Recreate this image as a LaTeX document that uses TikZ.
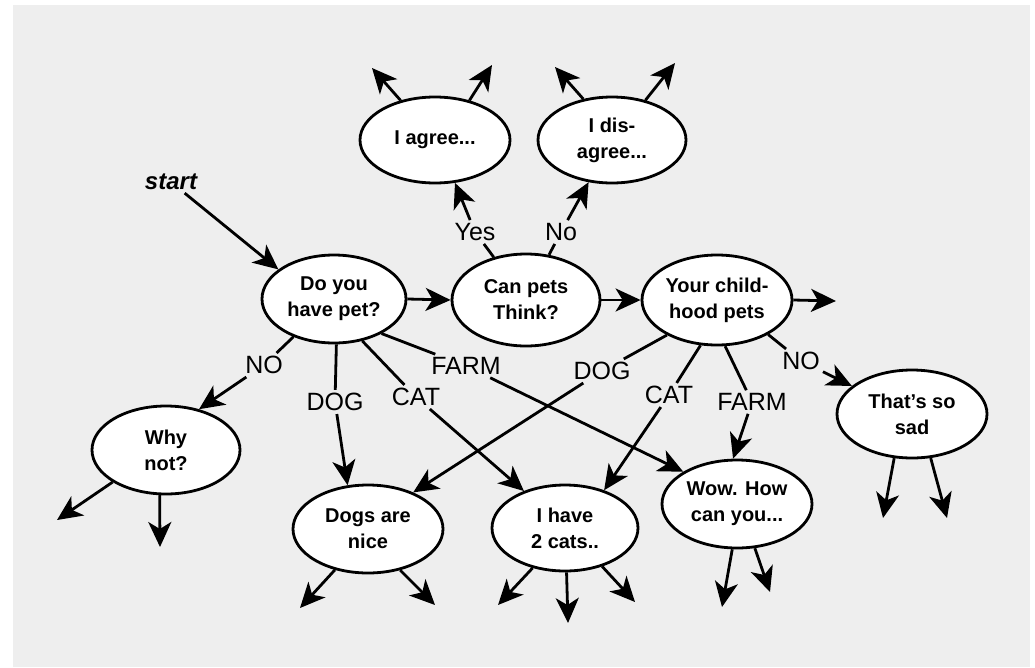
\documentclass[tikz,border=0pt]{standalone}
\usepackage{fontspec}
\setmainfont{Liberation Sans}
\usetikzlibrary{arrows.meta,shapes.geometric}
\definecolor{bg}{RGB}{238,238,238}
\begin{document}
\begin{tikzpicture}[x=1pt,y=-1pt,
  bub/.style={ellipse,draw=black,line width=2.8pt,fill=white,inner sep=0pt,align=center,
    font=\bfseries\fontsize{20}{26}\selectfont},
  lab/.style={inner sep=3pt,font=\fontsize{25}{30}\selectfont},
  con/.style={line width=2.8pt,draw=black},
  arr/.style={con,-{Stealth[length=25pt,width=23pt,inset=7pt]}},
]
\useasboundingbox (0,0) rectangle (1035,667);
\fill[white] (0,0) rectangle (1035,667);
\fill[bg] (13,5) rectangle (1030,667);

% bubbles
\node[bub,minimum width=144pt,minimum height=88pt] (do) at (334,299) {Do you\\have pet?};
\node[bub,minimum width=148pt,minimum height=92pt] (can) at (526,300) {Can pets\\Think?};
\node[bub,minimum width=150pt,minimum height=90pt] (your) at (717,300) {Your child-\\hood pets};
\node[bub,minimum width=150pt,minimum height=86pt] (agree) at (435,140) {I agree...};
\node[bub,minimum width=148pt,minimum height=86pt] (dis) at (612,140) {I dis-\\agree...};
\node[bub,minimum width=148pt,minimum height=88pt] (why) at (166,450) {Why\\not?};
\node[bub,minimum width=150pt,minimum height=88pt] (dogs) at (368,529) {Dogs are\\nice};
\node[bub,minimum width=146pt,minimum height=86pt] (cats) at (565,528) {I have\\2 cats..};
\node[bub,minimum width=150pt,minimum height=88pt] (wow) at (737,504) {Wow. How\\can you...};
\node[bub,minimum width=150pt,minimum height=88pt] (sad) at (912,414) {That's so\\sad};

% labels
\node[lab,font=\bfseries\itshape\fontsize{24}{28}\selectfont] (start) at (171,182) {start};
\node[lab] (yes) at (475,232) {Yes};
\node[lab] (no) at (561,232) {No};
\node[lab] (no1) at (264,365) {NO};
\node[lab] (dog1) at (335,402) {DOG};
\node[lab] (cat1) at (416,397) {CAT};
\node[lab] (farm1) at (466,366) {FARM};
\node[lab] (dog2) at (602,371) {DOG};
\node[lab] (cat2) at (669,395) {CAT};
\node[lab] (farm2) at (752,402) {FARM};
\node[lab] (no2) at (801,361) {NO};

% free ends
\coordinate (yo) at (836,301);
\coordinate (a1) at (372,68);
\coordinate (a2) at (492,65);
\coordinate (d1) at (555,67);
\coordinate (d2) at (675,63);
\coordinate (w1) at (57,520);
\coordinate (w2) at (160,547);
\coordinate (g1) at (300,608);
\coordinate (g2) at (435,605);
\coordinate (c1) at (498,605);
\coordinate (c2) at (568,623);
\coordinate (c3) at (635,602);
\coordinate (o1) at (722,607);
\coordinate (o2) at (770,592);
\coordinate (s1) at (883,518);
\coordinate (s2) at (947,518);

% connectors
\draw[arr] (start) -- (do.152);
\draw[arr] (do.east) -- (can.west);
\draw[arr] (can.east) -- (your.west);
\draw[arr] (your.east) -- (yo);
\draw[con] (can.127) -- (yes);
\draw[arr] (yes) -- (agree.295);
\draw[con] (can.63) -- (no);
\draw[arr] (no) -- (dis.241);
\draw[arr] (agree.131) -- (a1);
\draw[arr] (agree.49) -- (a2);
\draw[arr] (dis.125) -- (d1);
\draw[arr] (dis.50) -- (d2);
\draw[con] (do.223) -- (no1);
\draw[arr] (no1) -- (why.51);
\draw[con] (do.273) -- (dog1);
\draw[arr] (dog1) -- (dogs.115);
\draw[con] (do.-56) -- (cat1);
\draw[arr] (cat1) -- (cats.138);
\draw[con] (do.-36) -- (farm1);
\draw[arr] (farm1) -- (wow.149);
\draw[con] (your.215) -- (dog2);
\draw[arr] (dog2) -- (dogs.39);
\draw[con] (your.250) -- (cat2);
\draw[arr] (cat2) -- (cats.44);
\draw[con] (your.280) -- (farm2);
\draw[arr] (farm2) -- (wow.95);
\draw[con] (your.-34) -- (no2);
\draw[arr] (no2) -- (sad.155);
\draw[arr] (why.211) -- (w1);
\draw[arr] (why.262) -- (w2);
\draw[arr] (dogs.231) -- (g1);
\draw[arr] (dogs.-52) -- (g2);
\draw[arr] (cats.231) -- (c1);
\draw[arr] (cats.272) -- (c2);
\draw[arr] (cats.-46) -- (c3);
\draw[arr] (wow.264) -- (o1);
\draw[arr] (wow.292) -- (o2);
\draw[arr] (sad.248) -- (s1);
\draw[arr] (sad.293) -- (s2);
\end{tikzpicture}
\end{document}
